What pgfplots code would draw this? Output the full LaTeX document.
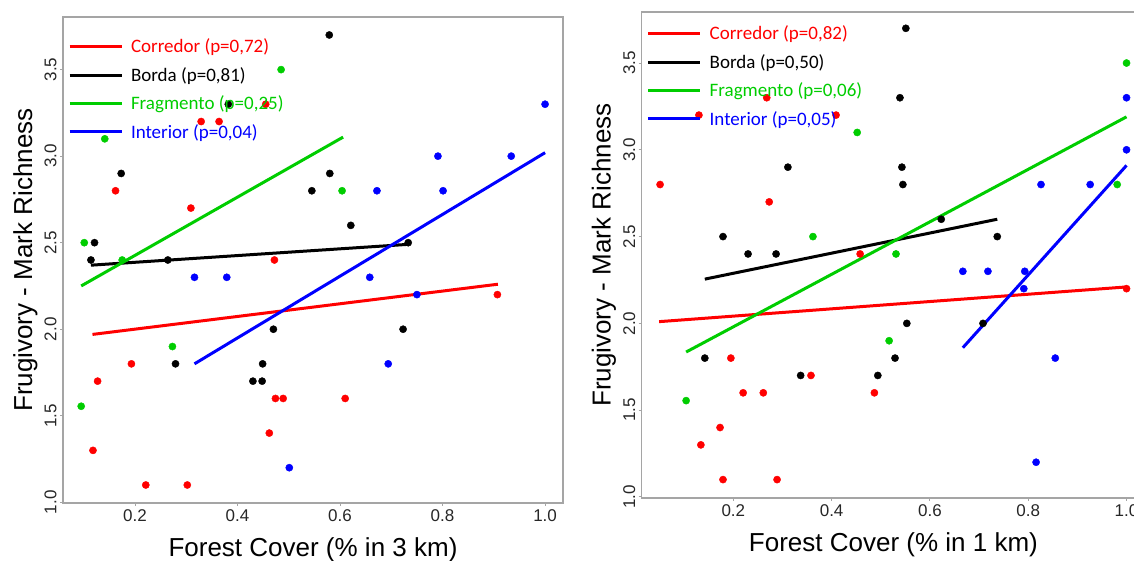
\documentclass[border=0pt]{standalone}
\usepackage{fontspec}
\setmainfont{Liberation Sans}
\newfontfamily\carlito{Carlito}
\usepackage{pgfplots}
\pgfplotsset{compat=1.18}
\definecolor{rred}{RGB}{255,0,0}
\definecolor{rgreen}{RGB}{0,205,0}
\definecolor{rblue}{RGB}{0,0,255}
\definecolor{framegray}{RGB}{165,165,165}

\pgfplotsset{
  rstyle/.style={
    scale only axis,
    axis line style={framegray, line width=1.2pt},
    tick style={framegray, line width=1pt},
    major tick length=3pt, tick align=outside,
    xtick pos=left, ytick pos=left,
    xtick={0.2,0.4,0.6,0.8,1.0},
    ytick={1.0,1.5,2.0,2.5,3.0,3.5},
    /pgf/number format/assume math mode=true,
    xticklabel style={font=\fontsize{17}{20}\selectfont, text=black!85,
      /pgf/number format/fixed, /pgf/number format/fixed zerofill,
      /pgf/number format/precision=1},
    yticklabel style={font=\fontsize{17}{20}\selectfont, text=black!85, rotate=90, anchor=south,
      /pgf/number format/fixed, /pgf/number format/fixed zerofill,
      /pgf/number format/precision=1},
    ylabel={Frugivory - Mark Richness},
    ylabel style={at={([xshift=-31pt]axis description cs:0,0.5)}, anchor=base,
      font=\fontsize{26}{30}\selectfont},
    xlabel style={at={([yshift=-54pt]axis description cs:0.5,0)}, anchor=base,
      font=\fontsize{26}{30}\selectfont},
    legend cell align=left,
    legend image code/.code={\draw[##1, line width=3pt] (0pt,0pt) -- (52pt,0pt);},
    legend style={at={([xshift=5pt,yshift=-22pt]axis description cs:0,1)}, anchor=north west,
      draw=none, fill=none, inner sep=0pt, outer sep=0pt, row sep=13pt, column sep=8pt,
      font=\carlito\fontsize{19}{21}\selectfont,
      nodes={inner sep=0pt, outer sep=0pt}},
    pts/.style={only marks, mark=*, mark size=3.6pt, forget plot, color=##1,
      mark options={draw=##1, fill=##1}},
    fit/.style={##1, line width=3pt},
  }
}

\begin{document}
\begin{tikzpicture}
\path[use as bounding box] (0pt,0pt) rectangle (1134pt,561pt);
\clip (0pt,0pt) rectangle (1134pt,561pt);

% ---- 3 km ----
\begin{axis}[rstyle, at={(63pt,58pt)}, anchor=south west,
  width=500pt, height=486pt,
  xmin=0.0595, xmax=1.035, ymin=0.996, ymax=3.804,
  xlabel={Forest Cover (\% in 3 km)}]
\addplot[pts=rred] coordinates {(0.455,3.30) (0.329,3.20) (0.364,3.20) (0.162,2.80) (0.309,2.70)
  (0.472,2.40) (0.193,1.80) (0.127,1.70) (0.474,1.60) (0.489,1.60) (0.462,1.40) (0.118,1.30)
  (0.221,1.10) (0.302,1.10) (0.907,2.20) (0.610,1.60)};
\addplot[pts=black] coordinates {(0.382,3.30) (0.173,2.90) (0.121,2.50) (0.114,2.40) (0.264,2.40)
  (0.579,3.70) (0.580,2.90) (0.545,2.80) (0.621,2.60) (0.733,2.50) (0.470,2.00) (0.279,1.80)
  (0.449,1.80) (0.430,1.70) (0.448,1.70) (0.723,2.00)};
\addplot[pts=rgreen] coordinates {(0.485,3.50) (0.141,3.10) (0.101,2.50) (0.175,2.40) (0.604,2.80)
  (0.273,1.90) (0.095,1.555)};
\addplot[pts=rblue] coordinates {(0.316,2.30) (0.379,2.30) (1.0,3.30) (0.791,3.00) (0.934,3.00)
  (0.672,2.80) (0.801,2.80) (0.658,2.30) (0.750,2.20) (0.694,1.80) (0.501,1.20)};
\addplot[fit=rred] coordinates {(0.117,1.97) (0.908,2.26)};
\addlegendentry{\textcolor{rred}{Corredor (p=0,72)}}
\addplot[fit=black] coordinates {(0.114,2.37) (0.731,2.49)};
\addlegendentry{Borda (p=0,81)}
\addplot[fit=rgreen] coordinates {(0.095,2.25) (0.606,3.11)};
\addlegendentry{\textcolor{rgreen}{Fragmento (p=0,25)}}
\addplot[fit=rblue] coordinates {(0.316,1.80) (1.0,3.02)};
\addlegendentry{\textcolor{rblue}{Interior (p=0,04)}}
\end{axis}

% ---- 1 km ----
\begin{axis}[rstyle, at={(641.7pt,63pt)}, anchor=south west,
  width=503.5pt, height=486pt,
  xmin=0.0136, xmax=1.038, ymin=0.994, ymax=3.794,
  xlabel={Forest Cover (\% in 1 km)},
  legend style={at={([xshift=5pt,yshift=-14pt]axis description cs:0,1)}}]
\addplot[pts=rred] coordinates {(0.051,2.80) (0.130,3.20) (0.268,3.30) (0.409,3.20) (0.273,2.70)
  (0.458,2.40) (1.0,2.20) (0.487,1.60) (0.195,1.80) (0.358,1.70) (0.220,1.60) (0.261,1.60)
  (0.173,1.40) (0.134,1.30) (0.179,1.10) (0.289,1.10)};
\addplot[pts=black] coordinates {(0.311,2.90) (0.179,2.50) (0.230,2.40) (0.287,2.40) (0.551,3.70)
  (0.539,3.30) (0.543,2.90) (0.545,2.80) (0.623,2.60) (0.737,2.50) (0.553,2.00) (0.708,2.00)
  (0.529,1.80) (0.494,1.70) (0.142,1.80) (0.337,1.70)};
\addplot[pts=rgreen] coordinates {(0.452,3.10) (0.362,2.50) (1.0,3.50) (0.981,2.80) (0.531,2.40)
  (0.517,1.90) (0.104,1.555)};
\addplot[pts=rblue] coordinates {(1.0,3.30) (1.0,3.00) (0.826,2.80) (0.926,2.80) (0.667,2.30)
  (0.718,2.30) (0.793,2.30) (0.791,2.20) (0.855,1.80) (0.816,1.20)};
\addplot[fit=rred] coordinates {(0.049,2.01) (1.0,2.21)};
\addlegendentry{\textcolor{rred}{Corredor (p=0,82)}}
\addplot[fit=black] coordinates {(0.142,2.255) (0.737,2.60)};
\addlegendentry{Borda (p=0,50)}
\addplot[fit=rgreen] coordinates {(0.104,1.835) (1.0,3.19)};
\addlegendentry{\textcolor{rgreen}{Fragmento (p=0,06)}}
\addplot[fit=rblue] coordinates {(0.667,1.86) (1.0,2.91)};
\addlegendentry{\textcolor{rblue}{Interior (p=0,05)}}
\end{axis}
\end{tikzpicture}
\end{document}
